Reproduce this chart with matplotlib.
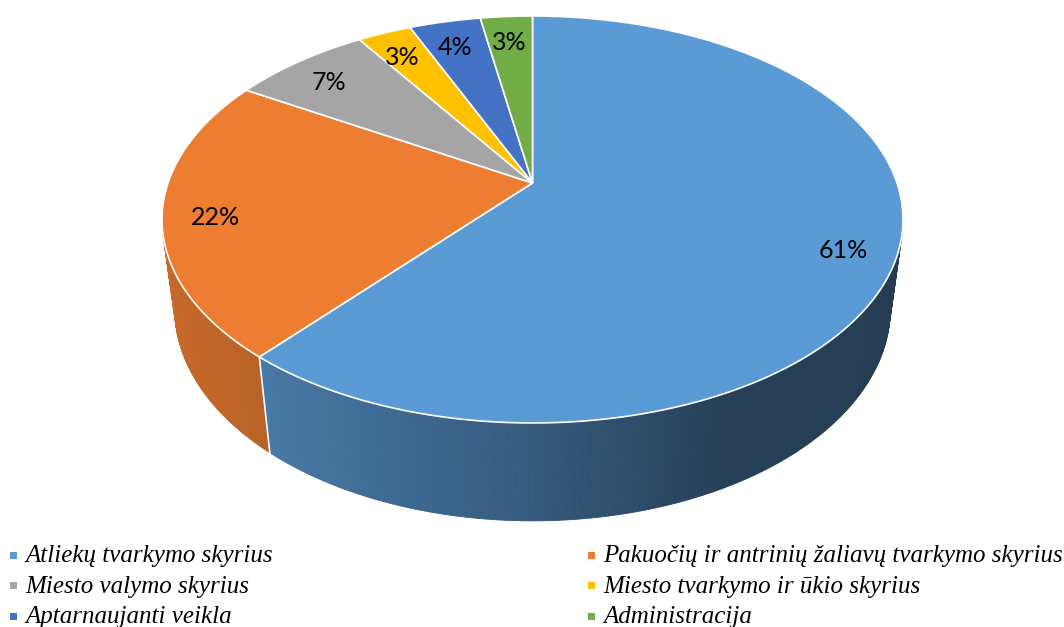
import numpy as np
import matplotlib
matplotlib.use('Agg')
import matplotlib.pyplot as plt
from matplotlib.patches import Polygon, Rectangle
from matplotlib.colors import to_rgb

plt.rcParams['font.serif'] = ['Liberation Serif', 'Times New Roman', 'DejaVu Serif']

labels = ['Atliekų tvarkymo skyrius',
          'Pakuočių ir antrinių žaliavų tvarkymo skyrius',
          'Miesto valymo skyrius',
          'Miesto tvarkymo ir ūkio skyrius',
          'Aptarnaujanti veikla',
          'Administracija']
values = [61.2, 22.4, 7.2, 2.8, 3.7, 2.7]
colors = ['#5b9bd5', '#ed7d31', '#a5a5a5', '#ffc000', '#4472c4', '#70ad47']

# perspective view of the pie (pixel space)
CX, CY = 532.5, 183.0
K = 364.5
SA, CA = 0.5403, 0.8415
D = 4.693
H = 0.30


def proj(x, y, z):
    v = y * SA - z * CA
    w = y * CA + z * SA
    s = D / (D - w)
    return CX + K * x * s, CY + K * v * s


def rim(phi, z, r=1.0):
    # phi runs clockwise from the back of the pie, seen from above
    return proj(r * np.sin(phi), -r * np.cos(phi), z)


def shade(phi):
    return np.interp(np.sin(phi), [-1, -0.64, 0, 0.45, 1], [0.85, 0.78, 0.58, 0.41, 0.39])


fig = plt.figure(figsize=(10.64, 6.27), dpi=100)
ax = fig.add_axes([0, 0, 1, 1])
ax.set_xlim(0, 1064)
ax.set_ylim(627, 0)
ax.axis('off')

edges = 2 * np.pi * np.cumsum([0] + values) / sum(values)

# side walls, only the part that faces the camera
for i, col in enumerate(colors):
    base = np.array(to_rgb(col))
    phis = np.linspace(edges[i], edges[i + 1], max(int(np.degrees(edges[i + 1] - edges[i]) * 2), 2))
    for a, b in zip(phis[:-1], phis[1:]):
        m = (a + b) / 2
        if -np.cos(m) < 0.25:
            continue
        c = np.clip(base * shade(m), 0, 1)
        pts = [rim(a, 0), rim(b, 0), rim(b, -H), rim(a, -H)]
        ax.add_patch(Polygon(pts, closed=True, facecolor=c, edgecolor=c, lw=0.6, zorder=1))

# white seams between walls
for e in edges[1:-1]:
    if -np.cos(e) > 0.25:
        (x0, y0), (x1, y1) = rim(e, 0), rim(e, -H)
        ax.plot([x0, x1], [y0, y1], color='white', lw=1.2, zorder=2)

# top faces
for i, col in enumerate(colors):
    phis = np.linspace(edges[i], edges[i + 1], 200)
    xs, ys = rim(phis, 0)
    pts = [(CX, CY)] + list(zip(xs, ys))
    ax.add_patch(Polygon(pts, closed=True, facecolor=col, edgecolor='white', lw=1.2, zorder=3))

# percentage labels
for i, v in enumerate(values):
    mid = (edges[i] + edges[i + 1]) / 2
    lx, ly = rim(mid, 0, r=0.86)
    ax.text(lx, ly + 6, f'{v:.0f}%', fontsize=18, family='Lato', ha='center', va='center', zorder=4)

# legend, two columns
marker_x = [13.5, 591.5]
text_x = [25, 603]
base_y = [562, 592.5, 623]
for i, (lab, col) in enumerate(zip(labels, colors)):
    c, r = i % 2, i // 2
    ax.add_patch(Rectangle((marker_x[c] - 3.5, base_y[r] - 10.5), 7, 7, facecolor=col, edgecolor='none'))
    ax.text(text_x[c], base_y[r], lab, fontsize=18, family='serif', style='italic',
            ha='left', va='baseline')

fig.savefig('out.png', dpi=100)
